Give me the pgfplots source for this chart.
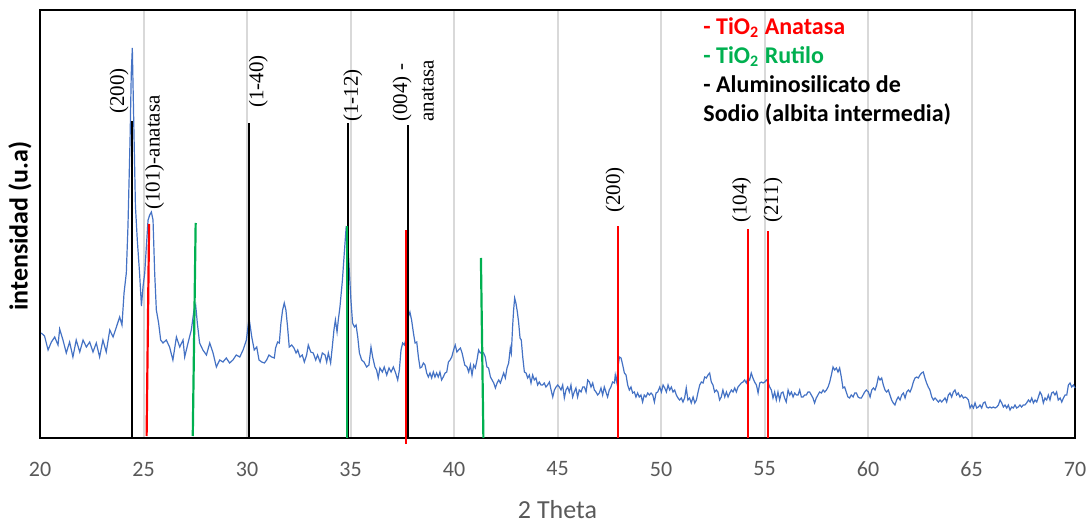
\documentclass[border=0pt]{standalone}
\usepackage{fontspec}
\setmainfont{Liberation Serif}
\newfontfamily\calibri{Carlito}
\usepackage{pgfplots}
\usepackage{pgfplotstable}
\pgfplotsset{compat=1.18}
\usetikzlibrary{calc}
\definecolor{xrdblue}{HTML}{4472C4}
\definecolor{gridgray}{HTML}{D9D9D9}
\definecolor{txtgray}{HTML}{595959}
\definecolor{anared}{HTML}{FF0000}
\definecolor{rutgreen}{HTML}{00B050}

\pgfplotstableread{
x y
20.06 105
20.22 102
20.39 88
20.55 96
20.71 101
20.87 93
20.95 109
21.11 98
21.27 85
21.43 96
21.59 81
21.75 98
21.92 86
22.08 98
22.24 91
22.40 96
22.56 86
22.72 95
22.88 81
23.04 98
23.20 86
23.37 108
23.53 101
23.69 111
23.85 121
23.96 113
24.06 145
24.17 165
24.25 212
24.35 298
24.41 365
24.46 390
24.53 315
24.61 232
24.70 198
24.81 165
24.90 132
24.98 152
25.06 165
25.14 192
25.22 218
25.30 223
25.38 226
25.46 218
25.54 165
25.62 128
25.73 115
25.83 98
25.94 95
26.10 98
26.26 91
26.42 78
26.59 101
26.75 91
26.91 98
26.99 81
27.15 95
27.31 108
27.44 128
27.52 133
27.60 115
27.71 95
27.87 88
28.04 83
28.20 95
28.36 85
28.52 71
28.68 78
28.84 76
29.00 80
29.16 75
29.32 78
29.48 83
29.65 81
29.81 88
29.97 98
30.10 120
30.23 101
30.35 88
30.47 91
30.58 78
30.71 76
30.84 75
30.95 78
31.06 83
31.19 81
31.32 80
31.38 90
31.48 96
31.56 95
31.64 115
31.72 128
31.80 135
31.88 128
31.96 111
32.04 91
32.16 93
32.27 90
32.37 85
32.45 88
32.56 81
32.67 83
32.77 76
32.88 83
32.96 93
33.08 86
33.20 85
33.32 78
33.41 83
33.53 76
33.64 85
33.77 83
33.85 76
33.93 85
34.04 75
34.12 91
34.20 108
34.27 118
34.35 106
34.41 118
34.49 131
34.61 158
34.70 185
34.78 208
34.86 200
34.94 168
35.02 138
35.10 115
35.19 111
35.27 113
35.35 101
35.43 85
35.54 78
35.65 76
35.78 71
35.89 73
35.99 91
36.07 81
36.18 71
36.26 68
36.34 60
36.42 70
36.54 66
36.63 71
36.75 63
36.86 70
36.96 66
37.07 71
37.18 65
37.28 58
37.36 68
37.44 88
37.52 95
37.60 93
37.71 101
37.79 121
37.87 126
37.95 118
38.04 105
38.12 95
38.20 96
38.28 81
38.36 70
38.44 71
38.52 75
38.60 73
38.68 65
38.76 61
38.84 65
38.92 60
39.00 66
39.08 61
39.16 65
39.24 61
39.32 66
39.40 58
39.48 61
39.57 65
39.65 66
39.73 76
39.81 78
39.89 81
39.98 88
40.06 93
40.14 86
40.22 88
40.31 90
40.39 85
40.52 73
40.63 71
40.71 66
40.79 73
40.87 63
40.95 73
41.03 70
41.11 78
41.19 88
41.27 85
41.35 86
41.43 85
41.51 81
41.59 71
41.67 70
41.76 61
41.84 58
41.92 55
42.00 50
42.08 55
42.16 58
42.24 55
42.32 60
42.40 65
42.48 60
42.56 70
42.64 75
42.72 90
42.77 85
42.83 111
42.88 128
42.93 140
42.99 135
43.06 126
43.12 116
43.19 100
43.25 98
43.32 81
43.40 66
43.48 65
43.56 60
43.64 63
43.72 55
43.80 63
43.88 58
43.96 60
44.04 53
44.12 56
44.20 53
44.28 53
44.36 55
44.44 51
44.52 53
44.61 56
44.69 48
44.77 41
44.85 48
44.93 51
45.01 53
45.09 51
45.17 48
45.25 53
45.33 40
45.41 48
45.49 51
45.57 46
45.65 53
45.73 41
45.81 46
45.89 50
45.97 41
46.05 48
46.14 46
46.22 51
46.30 51
46.38 46
46.46 58
46.54 56
46.62 51
46.70 55
46.78 48
46.86 46
46.94 43
47.02 45
47.10 50
47.18 43
47.26 51
47.34 46
47.42 41
47.50 48
47.58 51
47.66 56
47.75 55
47.79 63
47.86 56
47.92 71
47.99 81
48.07 80
48.15 73
48.23 65
48.31 63
48.39 53
48.47 48
48.55 51
48.63 45
48.71 46
48.79 41
48.87 45
48.95 41
49.03 43
49.11 36
49.19 43
49.27 41
49.36 45
49.44 43
49.52 45
49.60 43
49.68 36
49.76 45
49.84 46
49.94 51
50.02 46
50.10 53
50.18 50
50.26 46
50.34 53
50.42 48
50.50 51
50.58 46
50.66 48
50.74 43
50.82 40
50.90 38
50.98 40
51.06 36
51.14 40
51.22 50
51.30 38
51.38 40
51.46 35
51.55 41
51.63 35
51.71 38
51.79 46
51.87 53
51.95 56
52.03 55
52.11 61
52.19 60
52.27 63
52.35 65
52.43 56
52.51 53
52.59 46
52.67 48
52.75 46
52.83 38
52.91 41
52.99 48
53.08 41
53.16 46
53.24 41
53.32 45
53.40 48
53.48 46
53.56 50
53.64 46
53.72 51
53.80 53
53.88 55
53.96 56
54.04 58
54.12 55
54.20 60
54.28 58
54.36 65
54.44 60
54.52 56
54.61 53
54.69 45
54.77 55
54.85 56
54.93 55
55.01 56
55.09 58
55.17 56
55.25 51
55.33 48
55.41 40
55.49 46
55.57 38
55.65 46
55.73 38
55.81 45
55.89 46
55.97 40
56.05 36
56.14 48
56.22 43
56.30 46
56.38 41
56.46 45
56.54 43
56.62 43
56.70 48
56.78 41
56.86 41
56.94 43
57.02 43
57.10 46
57.18 46
57.26 43
57.34 40
57.42 35
57.50 40
57.58 43
57.66 46
57.75 45
57.83 48
57.91 46
57.99 48
58.07 51
58.15 56
58.23 63
58.31 71
58.39 68
58.47 70
58.55 66
58.63 70
58.71 61
58.79 50
58.87 51
58.95 46
59.03 41
59.11 40
59.19 43
59.28 41
59.36 45
59.44 45
59.52 41
59.60 40
59.68 40
59.76 43
59.84 46
59.92 48
60.02 46
60.10 41
60.18 48
60.26 50
60.34 48
60.42 53
60.50 61
60.58 58
60.66 60
60.74 53
60.82 48
60.90 46
60.98 48
61.06 43
61.14 38
61.22 35
61.30 33
61.38 38
61.46 41
61.55 38
61.63 43
61.71 45
61.79 40
61.87 46
61.95 48
62.03 46
62.11 50
62.19 56
62.27 60
62.35 61
62.43 60
62.51 63
62.59 65
62.67 66
62.75 60
62.83 55
62.91 51
62.99 48
63.08 41
63.16 38
63.24 40
63.32 38
63.40 36
63.48 38
63.56 36
63.64 38
63.72 40
63.80 36
63.88 43
63.96 45
64.04 41
64.12 46
64.20 48
64.28 43
64.36 45
64.44 41
64.52 43
64.61 40
64.69 41
64.77 40
64.85 38
64.93 30
65.01 33
65.09 30
65.17 35
65.25 30
65.33 31
65.41 33
65.49 30
65.57 35
65.65 36
65.73 31
65.81 30
65.89 31
65.97 30
66.05 31
66.14 30
66.22 31
66.30 33
66.38 38
66.46 35
66.54 31
66.62 33
66.70 30
66.78 33
66.86 28
66.94 31
67.02 30
67.10 33
67.18 30
67.26 31
67.34 33
67.42 31
67.50 33
67.58 33
67.66 35
67.75 38
67.83 36
67.91 40
67.99 35
68.07 38
68.15 36
68.23 41
68.31 46
68.39 43
68.47 35
68.55 40
68.63 38
68.71 43
68.79 38
68.87 45
68.95 46
69.03 43
69.11 46
69.19 38
69.28 40
69.36 36
69.44 40
69.52 43
69.60 43
69.68 53
69.76 55
69.84 51
69.92 53
70.00 50
}\xrd

\begin{document}
\begin{tikzpicture}
\begin{axis}[
  scale only axis, width=517.5pt, height=214pt,
  xmin=20, xmax=70, ymin=0, ymax=428,
  xtick={20,25,...,70}, ytick=\empty,
  major tick length=0pt,
  xmajorgrids, major grid style={gridgray, line width=1pt},
  axis line style={black, line width=1pt},
  clip=false,
  /pgf/number format/assume math mode=true,
  xticklabel style={font=\calibri\fontsize{11}{13}\selectfont, text=txtgray, anchor=center, yshift=-15.5pt},
  xlabel={2 Theta},
  xlabel style={font=\calibri\fontsize{13}{15}\selectfont, text=txtgray, at={(axis description cs:0.5,0)}, anchor=center, yshift=-36pt},
]
\coordinate (ll) at (rel axis cs:0,0);
\coordinate (ur) at (rel axis cs:1,1);
\addplot[xrdblue, line width=0.6pt, no markers] table[x=x, y=y] {\xrd};
% Albita (black)
\addplot[black, line width=1.1pt] coordinates {(24.43,0) (24.43,317)};
\addplot[black, line width=1.1pt] coordinates {(30.11,0) (30.11,315)};
\addplot[black, line width=1.1pt] coordinates {(34.89,0) (34.89,315)};
\addplot[black, line width=1.1pt] coordinates {(37.79,0) (37.79,313)};
% Rutilo (green)
\addplot[rutgreen, line width=1.1pt] coordinates {(27.38,2) (27.52,215)};
\addplot[rutgreen, line width=1.1pt] coordinates {(34.82,0) (34.82,212)};
\addplot[rutgreen, line width=1.1pt] coordinates {(41.42,0) (41.30,180)};
% Anatasa (red)
\addplot[anared, line width=1.1pt] coordinates {(25.15,2) (25.27,214)};
\addplot[anared, line width=1.1pt] coordinates {(37.68,-6) (37.68,208)};
\addplot[anared, line width=1.1pt] coordinates {(47.94,0) (47.94,212)};
\addplot[anared, line width=1.1pt] coordinates {(54.20,0) (54.20,209)};
\addplot[anared, line width=1.1pt] coordinates {(55.18,0) (55.18,207)};
% peak labels
\begin{scope}[every node/.style={rotate=90, anchor=west, inner sep=0pt, font=\fontsize{10.5}{13.3}\selectfont}]
\node at (axis cs:23.82,324) {(200)};
\node at (axis cs:25.54,228) {(101)-anatasa};
\node at (axis cs:30.55,330) {(1-40)};
\node at (axis cs:35.11,316) {(1-12)};
\node[align=left] at (axis cs:38.03,316) {(004) -\\anatasa};
\node at (axis cs:47.78,225) {(200)};
\node at (axis cs:53.89,215) {(104)};
\node at (axis cs:55.41,215) {(211)};
\end{scope}
\node[anchor=north west, align=left, inner sep=0pt, font=\calibri\bfseries\fontsize{12}{14.5}\selectfont] at (axis cs:52.03,421)
  {\textcolor{anared}{- TiO\textsubscript{2} Anatasa}\\
   \textcolor{rutgreen}{- TiO\textsubscript{2} Rutilo}\\
   - Aluminosilicato de\\
   Sodio (albita intermedia)};
\node[rotate=90, font=\calibri\bfseries\fontsize{13}{15}\selectfont] at ([xshift=-10pt]rel axis cs:0,0.495) {intensidad (u.a)};
\end{axis}
\pgfresetboundingbox
\path ($(ll)+(-20pt,-42.5pt)$) rectangle ($(ur)+(8.5pt,5pt)$);
\end{tikzpicture}
\end{document}
